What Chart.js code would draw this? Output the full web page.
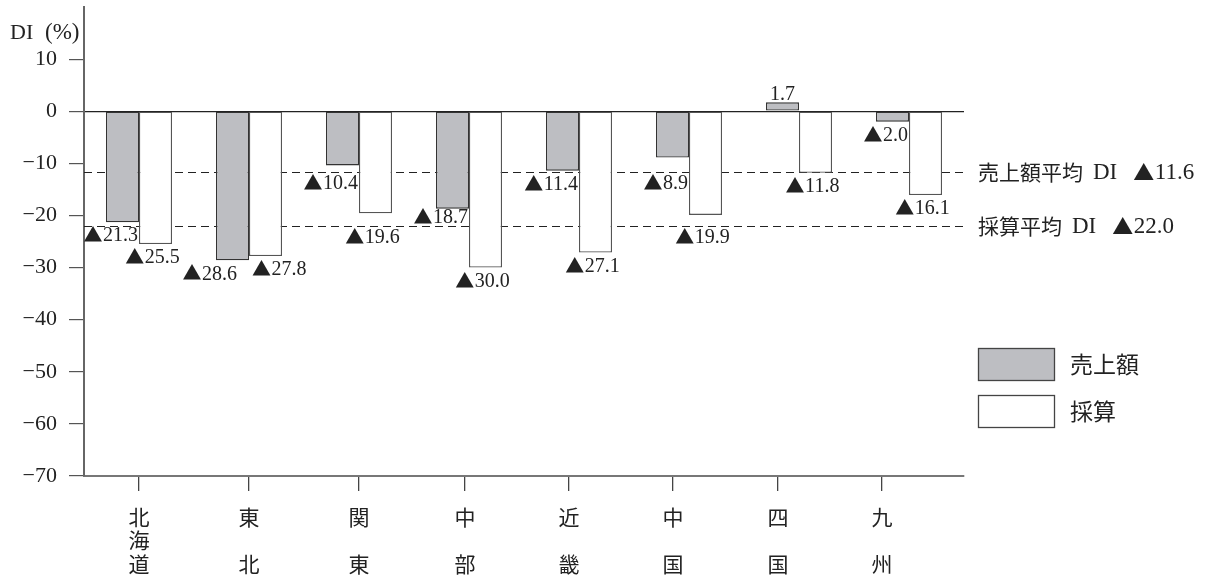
<!DOCTYPE html>
<html><head><meta charset="utf-8">
<script src="https://cdn.jsdelivr.net/npm/chart.js@4.4.1/dist/chart.umd.min.js"></script>
<style>html,body{margin:0;padding:0;background:#fff}#wrap{width:1208px;height:581px}</style>
</head><body><div id="wrap"><canvas id="c" width="1208" height="581"></canvas></div>
<script>
const categories = ['北海道','東北','関東','中部','近畿','中国','四国','九州'];
const salesDI = [-21.3, -28.6, -10.4, -18.7, -11.4, -8.9, 1.7, -2.0];
const profitDI = [-25.5, -27.8, -19.6, -30.0, -27.1, -19.9, -11.8, -16.1];
const seriesNames = ['売上額', '採算'];
const averageDI = [-11.6, -22.0];
const averageNames = ['売上額平均', '採算平均'];
const averageSuffix = 'DI';
const yTicks = [10, 0, -10, -20, -30, -40, -50, -60, -70];
const yAxisTitle = ['DI', '(%)'];

const SERIF = "'Liberation Serif','DejaVu Serif','Noto Sans CJK JP'";
const CJK = "'Noto Sans CJK JP'";
const fmt = v => v < 0 ? '▲' + Math.abs(v).toFixed(1) : v.toFixed(1);
const splitLabel = s => s.length === 2 ? [s[0], '', s[1]] : s.split('');

function measureValue(ctx, text, numSize, triSize) {
  const hasTri = text.startsWith('▲');
  const num = hasTri ? text.slice(1) : text;
  ctx.font = `${triSize}px ${CJK}`;
  const tm = ctx.measureText('▲');
  const tw = hasTri ? tm.actualBoundingBoxRight + 0.5 : 0;
  const tl = hasTri ? tm.actualBoundingBoxLeft : 0;
  ctx.font = `${numSize}px ${SERIF}`;
  const nw = ctx.measureText(num).width;
  return { hasTri, num, tw, tl, total: tw + tl + nw };
}
// draws "▲12.3" with the triangle from the CJK font and digits from the serif font
function drawValue(ctx, text, x, y, align, numSize, triSize) {
  const m = measureValue(ctx, text, numSize, triSize);
  const x0 = align === 'left' ? x : align === 'right' ? x - m.total : x - m.total / 2;
  ctx.textAlign = 'left'; ctx.textBaseline = 'middle';
  if (m.hasTri) { ctx.font = `${triSize}px ${CJK}`; ctx.fillText('▲', x0 + m.tl, y); }
  ctx.font = `${numSize}px ${SERIF}`; ctx.fillText(m.num, x0 + m.tl + m.tw, y + 1);
}

const overlay = {
  id: 'overlay',
  beforeDatasetsDraw(chart) {
    const {ctx, chartArea: a, scales: {y}} = chart;
    ctx.save();
    ctx.strokeStyle = '#222'; ctx.lineWidth = 1.2; ctx.setLineDash([8, 5]);
    averageDI.forEach(v => {
      const py = Math.round(y.getPixelForValue(v)) + 0.5;
      ctx.beginPath(); ctx.moveTo(a.left, py); ctx.lineTo(a.right, py); ctx.stroke();
    });
    ctx.restore();
  },
  afterDatasetsDraw(chart) {
    const {ctx, chartArea: a, scales: {y}} = chart;
    ctx.save();
    const lineYs = averageDI.map(v => y.getPixelForValue(v));
    ctx.fillStyle = '#222';
    const NUM = 20, TRI = 19;
    // compute placements
    const place = chart.data.datasets.map((ds, di) => {
      const meta = chart.getDatasetMeta(di);
      return meta.data.map((bar, i) => {
        const v = ds.data[i];
        const text = fmt(v);
        const w = measureValue(ctx, text, NUM, TRI).total;
        let x0, ty;
        if (v >= 0) { ty = bar.y - 9; x0 = bar.x - w / 2; }
        else {
          ty = bar.y + 13;
          for (const ly of lineYs) {
            if (Math.abs(ty - ly) < 9) { const up = ly - 9; ty = (up - 7 >= bar.y) ? up : ly + 11; }
          }
          if (di === 0) x0 = bar.x + bar.width / 2 - 1 - w;
          else x0 = bar.x - 3 - w / 2;
        }
        return { text, x0, w, ty, bar };
      });
    });
    // resolve overlaps between the pair of labels of one region
    if (place.length === 2) {
      place[0].forEach((g, i) => {
        const wL = place[1][i];
        if (Math.abs(g.ty - wL.ty) < 16 && g.x0 + g.w + 3 > wL.x0) {
          const boundary = g.bar.x + g.bar.width / 2;
          g.x0 = boundary - 12 - g.w;
          wL.x0 = boundary + 3;
        }
      });
    }
    place.flat().forEach(p => drawValue(ctx, p.text, p.x0, p.ty, 'left', NUM, TRI));
    // average labels
    averageDI.forEach((v, i) => {
      const py = y.getPixelForValue(v);
      let x = a.right + 14;
      ctx.fillStyle = '#222';
      ctx.textAlign = 'left'; ctx.textBaseline = 'middle';
      ctx.font = `21px ${CJK}`;
      ctx.fillText(averageNames[i], x, py);
      x += ctx.measureText(averageNames[i]).width + 10;
      ctx.font = `23px ${SERIF}`;
      ctx.fillText(averageSuffix, x, py + 1);
      x += ctx.measureText(averageSuffix).width + 16;
      drawValue(ctx, fmt(v), x, py, 'left', 23, 21);
    });
    // legend
    const boxY = [348, 395];
    chart.data.datasets.forEach((ds, i) => {
      ctx.fillStyle = ds.backgroundColor;
      ctx.fillRect(a.right + 14, boxY[i], 76, 32);
      ctx.strokeStyle = '#444'; ctx.lineWidth = 1.3;
      ctx.strokeRect(a.right + 14.5, boxY[i] + 0.5, 76, 32);
      ctx.fillStyle = '#222'; ctx.font = `23px ${CJK}`;
      ctx.textAlign = 'left'; ctx.textBaseline = 'middle';
      ctx.fillText(ds.label, a.right + 106, boxY[i] + 16);
    });
    // y title
    ctx.fillStyle = '#222';
    ctx.textAlign = 'left'; ctx.textBaseline = 'middle';
    ctx.font = `22px ${SERIF}`;
    ctx.fillText(yAxisTitle[0], 10, 33);
    ctx.font = `23px ${SERIF}`;
    ctx.fillText(yAxisTitle[1], 45, 33);
    ctx.restore();
  }
};

new Chart(document.getElementById('c'), {
  type: 'bar',
  data: {
    labels: categories,
    datasets: [
      { label: seriesNames[0], data: salesDI, backgroundColor: '#bdbec2', borderColor: '#333', borderWidth: 1.3, borderSkipped: false },
      { label: seriesNames[1], data: profitDI, backgroundColor: '#ffffff', borderColor: '#555', borderWidth: 1.3, borderSkipped: false }
    ]
  },
  options: {
    responsive: false,
    animation: false,
    events: [],
    layout: { padding: { top: 7, right: 244, bottom: 0, left: 0 } },
    datasets: { bar: { categoryPercentage: 0.6, barPercentage: 1.0 } },
    plugins: { legend: { display: false }, tooltip: { enabled: false } },
    scales: {
      x: { type: 'category', display: false, offset: true },
      x2: {
        type: 'linear', position: 'bottom', min: -0.5, max: 7.5, offset: false,
        afterBuildTicks: s => { s.ticks = [0, 1, 2, 2.964, 3.909, 4.855, 5.809, 6.755].map(v => ({ value: v })); },
        afterFit: s => { s.height = 105; s.paddingLeft = 0; s.paddingRight = 0; },
        grid: { display: true, offset: false, drawOnChartArea: false, tickLength: 15, tickColor: '#444', lineWidth: 1.3 },
        border: { display: true, color: '#777', width: 2 },
        ticks: {
          autoSkip: false, maxRotation: 0, minRotation: 0, padding: 14, color: '#222',
          font: { family: CJK, size: 21, lineHeight: 1.12 },
          callback: (v, i) => splitLabel(categories[i])
        }
      },
      y: {
        min: -70, max: 20,
        afterBuildTicks: s => { s.ticks = yTicks.map(v => ({ value: v })); },
        afterFit: s => { s.width = 84; s.paddingTop = 0; s.paddingBottom = 0; },
        grid: {
          color: c => c.tick && c.tick.value === 0 ? '#222' : 'rgba(0,0,0,0)',
          lineWidth: 1.2, tickLength: 15, tickColor: '#555', drawTicks: true
        },
        border: { display: true, color: '#666', width: 2 },
        ticks: {
          padding: 12, color: '#222', autoSkip: false,
          font: { family: SERIF, size: 22 },
          callback: v => v < 0 ? '−' + Math.abs(v) : String(v)
        }
      }
    }
  },
  plugins: [overlay]
});
</script></body></html>
